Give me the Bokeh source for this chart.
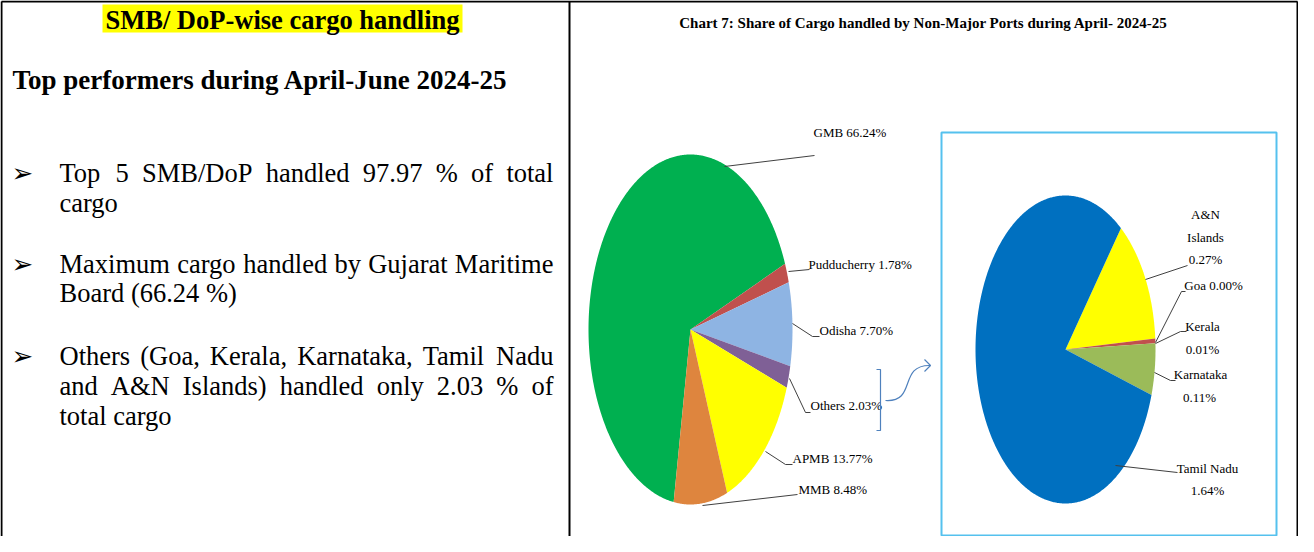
from bokeh.plotting import figure
from bokeh.models import Range1d
from bokeh.embed import file_html
from bokeh.resources import INLINE
from bokeh.core.properties import value
import numpy as np

# ---------------- data ----------------
main_labels = ["GMB", "Pudducherry", "Odisha", "Others", "APMB", "MMB"]
main_shares = [66.24, 1.78, 7.70, 2.03, 13.77, 8.48]
main_colors = ["#00B050", "#C0504D", "#8EB4E3", "#7F6096", "#FFFF00", "#DE853E"]

other_labels = ["A&N Islands", "Goa", "Kerala", "Karnataka", "Tamil Nadu"]
other_shares = [0.27, 0.00, 0.01, 0.11, 1.64]
other_colors = ["#FFFF00", "#F79646", "#C0504D", "#9BBB59", "#0070C0"]

heading = "SMB/ DoP-wise cargo handling"
subheading = "Top performers during April-June 2024-25"
chart_title = "Chart 7: Share of Cargo handled by Non-Major Ports during April- 2024-25"
bullet_text = [
    ("Top 5 SMB/DoP handled 97.97 % of total", True),
    ("cargo", False),
    ("Maximum cargo handled by Gujarat Maritime", True),
    ("Board (66.24 %)", False),
    ("Others (Goa, Kerala, Karnataka, Tamil Nadu", True),
    ("and A&N Islands) handled only 2.03 % of", True),
    ("total cargo", False),
]

# ---------------- layout (positions only) ----------------
W, H = 1298, 536
SERIF = value("Liberation Serif")

p = figure(width=W, height=H, output_backend="svg", toolbar_location=None,
           x_range=Range1d(8, 8 + W), y_range=Range1d(8 + H, 8),
           min_border=0, outline_line_color=None, background_fill_color="white")
p.axis.visible = False
p.grid.visible = False

# frame lines
p.segment(x0=[9, 9, 1305, 577], y0=[9, 9, 9, 9], x1=[1305, 9, 1305, 577], y1=[9, 544, 544, 544],
          line_color="black", line_width=2)

# heading with highlight
p.quad(left=[110], right=[470], top=[12], bottom=[40], fill_color="#FFFF00", line_color=None)
p.text(x=[290], y=[27], text=[heading], text_font=SERIF, text_font_style="bold",
       text_font_size="26.5px", text_align="center", text_baseline="middle", text_color="black")
p.text(x=[20], y=[87], text=[subheading], text_font=SERIF, text_font_style="bold",
       text_font_size="27px", text_align="left", text_baseline="middle", text_color="black")

# Times/Liberation Serif advance widths (1/1000 em) for justification
TW = {" ": 250, "(": 333, ")": 333, "%": 833, ",": 250, ".": 250, "/": 278, "&": 778,
      "A": 722, "B": 667, "C": 667, "D": 722, "G": 722, "I": 333, "K": 722, "M": 889,
      "N": 722, "O": 722, "P": 556, "S": 556, "T": 611,
      "a": 444, "b": 500, "c": 444, "d": 500, "e": 444, "f": 333, "g": 500, "h": 500,
      "i": 278, "j": 278, "k": 500, "l": 278, "m": 778, "n": 500, "o": 500, "p": 500,
      "r": 333, "s": 389, "t": 278, "u": 500, "x": 500, "y": 500}
for d in "0123456789":
    TW[d] = 500

FS = 26.5
LEFT, RIGHT = 67, 561
line_y = [180, 210, 271, 300, 363, 393, 423]

bx, by, bt = [], [], []
for (line, just), yy in zip(bullet_text, line_y):
    if not just:
        bx.append(LEFT); by.append(yy); bt.append(line)
        continue
    words = line.split(" ")
    widths = [sum(TW.get(c, 500) for c in w_) / 1000 * FS for w_ in words]
    gap = (RIGHT - LEFT - sum(widths)) / (len(words) - 1)
    x_ = LEFT
    for w_, wd in zip(words, widths):
        bx.append(x_); by.append(yy); bt.append(w_)
        x_ += wd + gap
p.text(x=bx, y=by, text=bt, text_font=SERIF, text_font_size=f"{FS}px",
       text_align="left", text_baseline="middle", text_color="black")
p.text(x=[19, 19, 19], y=[180, 271, 363], text=["\u27A2"] * 3, text_font=value("DejaVu Sans"),
       text_font_size="26px", text_align="left", text_baseline="middle", text_color="black")

# chart title
p.text(x=[931], y=[30], text=[chart_title], text_font=SERIF, text_font_style="bold",
       text_font_size="15px", text_align="center", text_baseline="middle", text_color="black")


def pie_patches(values, cx, cy, rx, ry, start_deg):
    v = np.asarray(values, dtype=float)
    frac = v / v.sum()
    ends = start_deg + np.cumsum(frac) * 360.0
    starts = ends - frac * 360.0
    xs, ys = [], []
    for a0, a1 in zip(starts, ends):
        n = max(2, int(abs(a1 - a0) * 2) + 2)
        t = np.radians(np.linspace(a0, a1, n))
        xs.append([cx] + list(cx + rx * np.sin(t)))
        ys.append([cy] + list(cy - ry * np.cos(t)))
    return xs, ys

# main pie (elliptical)
mx, my = pie_patches(main_shares, 698, 337, 102, 175, 189.5)
p.patches(xs=mx, ys=my, fill_color=main_colors, line_color=None)

main_label_pos = [(821, 140), (816, 272), (827, 338), (818, 413), (800, 466), (806, 497)]
p.text(x=[q[0] for q in main_label_pos], y=[q[1] for q in main_label_pos],
       text=[f"{l} {s:.2f}%" for l, s in zip(main_labels, main_shares)],
       text_font=SERIF, text_font_size="13px", text_align="left", text_baseline="middle",
       text_color="black")
main_leaders_x = [[732, 822], [796, 817], [800, 820, 827], [797, 813, 818], [773, 793, 800], [710, 805]]
main_leaders_y = [[174, 163], [279, 277], [331, 344, 344], [386, 420, 420], [459, 472, 472], [513, 502]]
p.multi_line(xs=main_leaders_x, ys=main_leaders_y, line_color="#404040", line_width=1)

# bracket + curved arrow
p.multi_line(xs=[[884, 888, 888, 884]], ys=[[377, 377, 438, 438]], line_color="#4F81BD", line_width=1.2)
p.bezier(x0=[893], y0=[408], x1=[938], y1=[373], cx0=[925], cy0=[410], cx1=[905], cy1=[372],
         line_color="#4F81BD", line_width=1.2)
p.multi_line(xs=[[932, 938, 932]], ys=[[367, 373, 379]], line_color="#4F81BD", line_width=1.2)

# inset box
p.quad(left=[949], right=[1284], top=[140], bottom=[543], fill_color=None,
       line_color="#55C1EE", line_width=2)

# others pie
ox, oy = pie_patches(other_shares, 1073, 357, 90, 154, 38)
p.patches(xs=ox, ys=oy, fill_color=other_colors, line_color=None)

other_text = []
an_parts = other_labels[0].split(" ")
other_text += [(1213, 222, an_parts[0]), (1213, 245, an_parts[1]), (1213, 267, f"{other_shares[0]:.2f}%")]
other_text += [(1221, 293, f"{other_labels[1]} {other_shares[1]:.2f}%")]
other_text += [(1210, 334, other_labels[2]), (1210, 357, f"{other_shares[2]:.2f}%")]
other_text += [(1208, 382, other_labels[3]), (1207, 405, f"{other_shares[3]:.2f}%")]
other_text += [(1215, 476, other_labels[4]), (1215, 498, f"{other_shares[4]:.2f}%")]
p.text(x=[t[0] for t in other_text], y=[t[1] for t in other_text], text=[t[2] for t in other_text],
       text_font=SERIF, text_font_size="13px", text_align="center", text_baseline="middle",
       text_color="black")
other_leaders_x = [[1153, 1195], [1163, 1189, 1193], [1163, 1188, 1194], [1162, 1178, 1183], [1123, 1185]]
other_leaders_y = [[287, 273], [350, 299, 299], [351, 339, 339], [380, 388, 388], [473, 480]]
p.multi_line(xs=other_leaders_x, ys=other_leaders_y, line_color="#404040", line_width=1)

open("out.html", "w").write(file_html(p, INLINE))
